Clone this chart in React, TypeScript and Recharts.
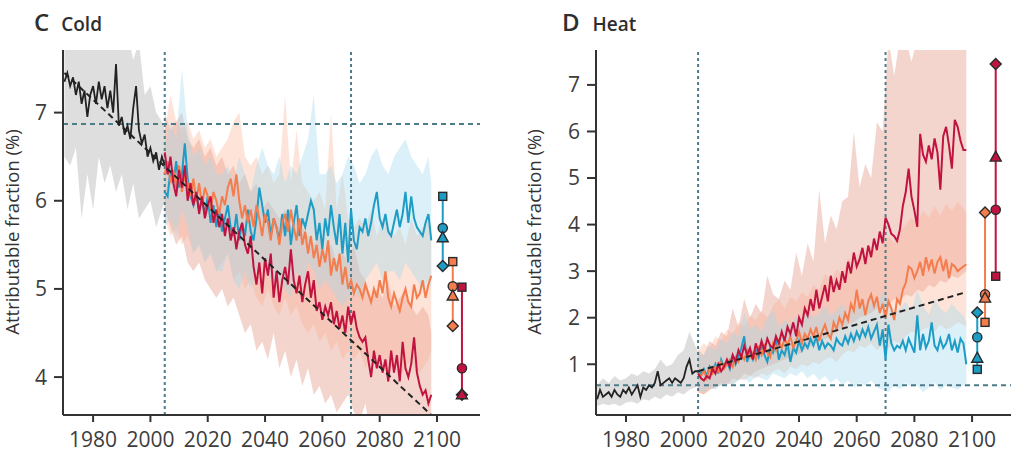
import React from "react";
import { ComposedChart, Area, Line, Scatter, XAxis, YAxis, ReferenceLine } from "recharts";

const FONT = "'Open Sans', 'Noto Sans', sans-serif";
const AXIS = "#333";
const REF = "#4e7b89";
const INK = { hist: "#222", blue: "#1d9dc6", orange: "#f47c4d", red: "#c1133f" };
const FILL = { hist: "#c2c2c2", blue: "#a6daee", orange: "#f8ae90", red: "#e6a193" };

// years
const histYears = Array.from({ length: 36 }, (_, i) => 1970 + i); // 1970-2005
const projYears = Array.from({ length: 94 }, (_, i) => 2005 + i); // 2005-2098
const histBandYears = [1970, 1972, 1974, 1976, 1978, 1980, 1982, 1984, 1986, 1988, 1990, 1992, 1994, 1996, 1998, 2000, 2002, 2004, 2005];
const projBandYears = [2005, 2007, 2009, 2011, 2013, 2015, 2017, 2019, 2021, 2023, 2025, 2027, 2029, 2031, 2033, 2035, 2037, 2039, 2041, 2043, 2045, 2047, 2049, 2051, 2053, 2055, 2057, 2059, 2061, 2063, 2065, 2067, 2069, 2071, 2073, 2075, 2077, 2079, 2081, 2083, 2085, 2087, 2089, 2091, 2093, 2095, 2097, 2098];
const xTicks = [1980, 2000, 2020, 2040, 2060, 2080, 2100];
const markerShapes = ["diamond", "square", "circle", "triangle"];

// ---- C: cold ----
const coldHist = [
  7.35, 7.45, 7.30, 7.40, 7.20, 7.35, 7.10, 7.25, 6.95, 7.20,
  7.30, 7.10, 7.35, 7.15, 7.30, 7.05, 7.25, 7.00, 7.55, 6.85,
  6.95, 6.75, 6.85, 6.70, 7.05, 7.30, 6.80, 6.65, 6.75, 6.50,
  6.60, 6.45, 6.55, 6.35, 6.50, 6.40,
];
const coldHistLo = [6.5, 6.4, 6.6, 5.8, 6.3, 5.9, 6.5, 6.2, 6.4, 6.1, 6.3, 5.9, 6.2, 5.8, 5.9, 6.0, 5.7, 5.9, 6.0];
const coldHistHi = [7.9, 8.0, 8.0, 7.8, 8.0, 7.9, 8.0, 7.8, 8.0, 8.0, 7.7, 7.9, 7.6, 7.8, 7.2, 7.3, 7.0, 6.9, 6.8];

const coldBlue = [
  6.10, 6.05, 6.35, 6.20, 6.45, 6.15, 6.30, 6.65, 6.25, 6.05,
  5.95, 6.10, 5.90, 6.00, 5.85, 6.05, 5.75, 5.95, 5.70, 5.90,
  5.65, 5.80, 5.95, 5.70, 5.60, 5.85, 5.55, 5.75, 5.60, 5.90,
  5.65, 5.55, 5.80, 6.15, 5.95, 5.75, 5.90, 5.60, 5.80, 5.70,
  5.55, 5.85, 5.60, 5.90, 5.50, 5.75, 5.95, 5.60, 5.80, 5.70,
  5.85, 6.00, 5.90, 5.55, 5.75, 5.45, 5.80, 5.60, 5.95, 5.70,
  5.50, 5.85, 5.40, 5.75, 5.30, 5.90, 5.55, 5.45, 5.70, 5.65,
  5.80, 5.60, 5.75, 5.95, 6.10, 5.80, 5.70, 5.85, 5.65, 5.60,
  5.75, 5.90, 5.70, 5.85, 6.10, 5.75, 6.05, 5.80, 5.70, 5.65,
  5.60, 5.75, 5.85, 5.55,
];
const coldBlueLo = [
  5.7, 5.8, 5.6, 5.9, 5.7, 5.4, 5.5, 5.3, 5.4, 5.2,
  5.2, 5.4, 5.1, 5.0, 5.2, 5.0, 5.2, 5.3, 5.2, 5.0,
  5.1, 5.0, 4.9, 5.2, 5.0, 5.3, 5.2, 5.0, 5.1, 5.0,
  4.9, 4.8, 4.9, 5.0, 4.9, 5.1, 5.2, 5.3, 5.1, 5.2,
  5.2, 5.1, 5.3, 5.2, 5.1, 5.0, 5.1, 5.0,
];
const coldBlueHi = [
  6.6, 6.9, 6.7, 7.5, 6.8, 6.5, 6.6, 6.4, 6.5, 6.3,
  6.3, 6.4, 6.2, 6.5, 6.3, 6.1, 6.4, 6.6, 6.4, 6.3,
  6.5, 6.2, 6.4, 6.3, 6.5, 6.7, 7.2, 6.3, 6.3, 6.4,
  6.2, 6.3, 6.5, 6.4, 6.2, 6.3, 6.5, 6.6, 6.4, 6.3,
  6.5, 6.6, 6.7, 6.5, 6.4, 6.3, 6.5, 6.2,
];
const coldOrange = [
  6.30, 6.45, 6.20, 6.35, 6.15, 6.40, 6.10, 6.30, 6.20, 6.05,
  6.25, 6.00, 6.20, 5.95, 6.15, 6.05, 5.90, 6.10, 6.00, 5.85,
  6.05, 5.95, 6.15, 6.25, 6.05, 6.30, 6.00, 5.80, 5.95, 5.75,
  5.90, 5.70, 5.95, 5.80, 5.60, 5.85, 5.75, 5.55, 5.80, 5.70,
  5.50, 5.75, 5.85, 5.65, 5.90, 5.70, 5.55, 5.80, 5.50, 5.65,
  5.40, 5.60, 5.35, 5.50, 5.25, 5.45, 5.30, 5.55, 5.15, 5.35,
  5.20, 5.40, 5.05, 5.25, 5.00, 5.10, 4.95, 5.05, 5.00, 4.90,
  5.05, 4.95, 4.85, 5.00, 4.90, 5.10, 4.95, 5.20, 4.90, 4.80,
  4.95, 4.85, 4.75, 4.90, 5.00, 4.85, 4.80, 5.05, 4.90, 4.95,
  5.10, 4.90, 5.05, 5.15,
];
const coldOrangeLo = [
  5.8, 5.6, 5.7, 5.5, 5.6, 5.4, 5.5, 5.3, 5.4, 5.2,
  5.3, 5.4, 5.1, 5.2, 5.0, 5.1, 4.9, 4.8, 5.0, 4.8,
  4.7, 4.9, 4.7, 4.8, 4.6, 4.5, 4.6, 4.4, 4.5, 4.3,
  4.4, 4.2, 4.3, 4.2, 4.3, 4.1, 4.2, 4.1, 4.2, 4.0,
  4.2, 4.0, 4.1, 4.2, 4.0, 4.1, 4.2, 4.3,
];
const coldOrangeHi = [
  6.8, 7.2, 6.9, 6.8, 6.9, 6.7, 6.8, 6.6, 6.7, 6.5,
  6.6, 6.7, 6.9, 7.0, 6.5, 6.4, 6.5, 6.3, 6.4, 6.2,
  6.3, 7.2, 6.2, 6.8, 6.2, 6.1, 6.0, 6.1, 5.9, 7.0,
  5.9, 6.3, 5.8, 5.7, 5.8, 5.7, 5.9, 5.6, 5.8, 5.7,
  5.6, 5.7, 5.5, 5.8, 5.6, 5.7, 5.8, 5.6,
];
const coldRed = [
  6.55, 6.30, 6.50, 6.20, 6.05, 6.35, 6.15, 6.40, 6.00, 6.20,
  5.95, 6.10, 5.85, 6.05, 5.80, 5.95, 6.05, 5.75, 5.90, 5.70,
  5.85, 5.60, 5.80, 5.55, 5.70, 5.45, 5.65, 5.75, 5.50, 5.40,
  5.60, 5.25, 5.05, 5.30, 4.95, 5.35, 5.15, 5.40, 4.90, 5.20,
  4.85, 5.10, 5.25, 5.05, 5.45, 5.10, 4.95, 5.15, 4.85, 5.05,
  5.20, 4.90, 5.10, 4.75, 4.85, 4.65, 4.80, 4.70, 4.85, 4.60,
  4.75, 4.55, 4.70, 4.50, 4.80, 4.60, 4.75, 4.55, 4.45, 4.40,
  4.45, 4.20, 4.00, 4.30, 4.10, 4.25, 4.05, 4.20, 3.95, 4.30,
  4.05, 4.25, 3.95, 4.40, 4.10, 4.00, 4.15, 4.45, 4.05, 3.90,
  3.80, 3.85, 3.70, 3.80,
];
const coldRedLo = [
  5.9, 5.7, 5.5, 5.6, 5.3, 5.2, 5.3, 5.1, 5.0, 4.9,
  5.0, 4.8, 4.9, 4.7, 4.5, 4.6, 4.3, 4.4, 4.2, 4.5,
  4.1, 4.3, 4.0, 4.2, 3.9, 4.1, 3.8, 3.9, 3.7, 3.8,
  3.6, 3.7, 3.8, 3.6, 3.5, 3.7, 3.3, 3.5, 3.4, 3.5,
  3.3, 3.4, 3.2, 3.3, 3.2, 3.3, 3.2, 3.2,
];
const coldRedHi = [
  7.0, 6.8, 6.9, 7.0, 6.7, 6.6, 6.7, 6.5, 6.6, 6.4,
  6.5, 6.3, 6.4, 6.2, 6.3, 6.1, 6.2, 5.9, 6.0, 5.9,
  5.8, 5.9, 5.7, 5.8, 5.7, 5.6, 5.5, 5.6, 5.4, 5.5,
  5.3, 5.4, 5.3, 5.5, 5.2, 5.1, 4.9, 5.0, 4.9, 5.1,
  4.8, 4.9, 5.0, 4.8, 4.7, 4.8, 4.7, 4.5,
];
const coldTrendYears = [1970, 2098];
const coldTrend = [7.45, 3.57];
const coldMarkYears = { blue: 2102, orange: 2105.5, red: 2108.7 };
// diamond, square, circle, triangle
const coldMarkBlue = [5.26, 6.05, 5.69, 5.58];
const coldMarkOrange = [4.58, 5.31, 5.03, 4.92];
const coldMarkRed = [3.80, 5.02, 4.10, 3.80];

// ---- D: heat ----
const heatHist = [
  0.25, 0.45, 0.30, 0.35, 0.40, 0.30, 0.45, 0.35, 0.30, 0.45,
  0.38, 0.50, 0.35, 0.45, 0.55, 0.30, 0.50, 0.45, 0.55, 0.50,
  0.60, 0.85, 0.55, 0.60, 0.65, 0.70, 0.60, 0.70, 0.65, 0.60,
  0.70, 0.95, 1.10, 0.80, 0.85, 0.85,
];
const heatHistLo = [0.10, 0.15, 0.12, 0.15, 0.10, 0.18, 0.20, 0.15, 0.25, 0.22, 0.30, 0.25, 0.35, 0.30, 0.40, 0.35, 0.45, 0.50, 0.55];
const heatHistHi = [0.55, 0.70, 0.60, 0.75, 0.65, 0.70, 0.80, 0.75, 0.85, 0.80, 0.90, 1.10, 0.95, 1.00, 1.20, 1.30, 1.70, 1.40, 1.25];

const heatBlue = [
  0.85, 0.80, 0.90, 0.75, 0.95, 0.85, 1.00, 0.80, 1.10, 0.95,
  1.05, 0.90, 1.20, 1.00, 1.15, 1.35, 1.60, 1.05, 1.25, 1.10,
  1.30, 1.15, 1.40, 1.20, 1.05, 1.35, 1.25, 1.55, 1.10, 1.30,
  1.20, 1.45, 1.05, 1.35, 1.25, 1.50, 1.30, 1.45, 1.35, 1.55,
  1.40, 1.60, 1.30, 1.50, 1.35, 1.45, 1.40, 1.30, 1.55, 1.45,
  1.40, 1.60, 1.45, 1.65, 1.50, 1.70, 1.55, 1.75, 1.60, 1.80,
  1.55, 1.70, 1.85, 1.40, 1.75, 1.10, 1.85, 1.45, 1.30, 1.40,
  1.35, 1.50, 1.30, 1.55, 1.40, 1.25, 2.05, 1.30, 1.65, 1.35,
  1.50, 1.90, 1.40, 1.30, 1.55, 1.35, 1.45, 1.65, 1.30, 1.50,
  1.25, 1.55, 1.45, 1.00,
];
const heatBlueLo = [
  0.45, 0.40, 0.50, 0.45, 0.55, 0.60, 0.55, 0.65, 0.70, 0.60,
  0.75, 0.70, 0.65, 0.80, 0.75, 0.70, 0.80, 0.75, 0.85, 0.70,
  0.80, 0.65, 0.75, 0.60, 0.70, 0.55, 0.65, 0.50, 0.60, 0.55,
  0.65, 0.50, 0.45, 0.40, 0.55, 0.45, 0.60, 0.50, 0.55, 0.40,
  0.50, 0.60, 0.45, 0.55, 0.50, 0.45, 0.55, 0.50,
];
const heatBlueHi = [
  1.25, 1.20, 1.40, 1.30, 1.55, 1.45, 1.70, 1.60, 2.10, 1.75,
  1.85, 1.70, 2.00, 2.20, 1.80, 1.95, 1.85, 2.05, 1.90, 2.15,
  2.00, 2.10, 2.25, 2.05, 2.15, 2.30, 2.05, 2.20, 2.35, 2.25,
  2.45, 2.30, 2.55, 2.40, 2.10, 2.20, 2.35, 2.15, 2.60, 2.25,
  2.05, 2.40, 2.20, 2.10, 2.30, 2.15, 2.05, 1.90,
];
const heatOrange = [
  0.80, 0.75, 0.85, 0.70, 0.90, 0.80, 0.95, 0.85, 1.05, 0.90,
  1.00, 1.10, 0.95, 1.15, 1.05, 1.20, 1.10, 1.30, 1.15, 1.25,
  1.10, 1.35, 1.20, 1.40, 1.25, 1.15, 1.45, 1.30, 1.50, 1.35,
  1.55, 1.40, 1.60, 1.35, 1.50, 1.70, 1.45, 1.65, 1.55, 1.75,
  1.60, 1.80, 1.50, 1.70, 1.85, 1.65, 1.55, 1.90, 1.75, 2.00,
  1.85, 2.10, 1.95, 2.30, 2.15, 2.60, 2.20, 2.40, 2.05, 2.35,
  2.50, 2.25, 2.45, 2.10, 2.30, 2.00, 2.35, 2.20, 1.95, 2.40,
  2.30, 2.60, 2.75, 3.10, 3.05, 2.85, 3.00, 3.20, 2.90, 3.30,
  3.05, 3.25, 2.95, 3.20, 3.30, 3.00, 3.25, 2.85, 3.15, 3.10,
  3.00, 3.05, 3.10, 3.15,
];
const heatOrangeLo = [
  0.40, 0.35, 0.45, 0.50, 0.55, 0.60, 0.55, 0.70, 0.65, 0.75,
  0.70, 0.80, 0.75, 0.85, 0.90, 0.80, 0.95, 0.90, 1.00, 0.95,
  1.05, 1.00, 1.10, 1.15, 1.05, 1.20, 1.30, 1.25, 1.40, 1.35,
  1.45, 1.30, 1.40, 1.35, 1.50, 1.45, 1.60, 1.70, 1.65, 1.75,
  1.80, 1.70, 1.85, 1.75, 1.80, 1.90, 1.85, 1.80,
];
const heatOrangeHi = [
  1.30, 1.45, 1.35, 1.60, 1.50, 1.75, 1.65, 1.90, 1.80, 2.05,
  1.95, 2.15, 2.00, 2.25, 2.40, 2.20, 2.45, 2.35, 2.55, 2.45,
  2.70, 2.60, 2.95, 2.80, 3.05, 2.90, 3.30, 3.10, 3.45, 3.30,
  3.55, 3.40, 3.65, 3.75, 3.60, 3.85, 4.00, 4.15, 4.05, 4.30,
  4.15, 4.40, 4.20, 4.45, 4.30, 4.50, 4.35, 4.25,
];
const heatRed = [
  0.80, 0.70, 0.65, 0.75, 0.70, 0.90, 0.80, 1.00, 0.85, 0.95,
  1.10, 0.95, 1.20, 1.05, 1.30, 1.15, 1.40, 1.20, 1.35, 1.10,
  1.45, 1.25, 1.50, 1.30, 1.55, 1.40, 1.35, 1.60, 1.45, 1.70,
  1.50, 1.80, 1.65, 1.90, 1.60, 2.00, 1.85, 2.20, 2.05, 2.40,
  2.15, 2.60, 2.20, 2.45, 2.70, 2.35, 2.90, 2.55, 2.80, 2.60,
  3.00, 2.75, 3.20, 2.95, 3.40, 3.10, 3.25, 3.50, 3.15, 3.55,
  3.30, 3.70, 3.45, 3.85, 3.60, 4.15, 4.00, 3.80, 3.75, 3.65,
  3.90, 4.40, 4.70, 5.20, 4.60, 4.30, 3.95, 5.95, 5.50, 5.35,
  5.70, 5.40, 5.85, 5.55, 4.75, 5.90, 6.10, 5.70, 5.20, 6.25,
  6.10, 5.80, 5.60, 5.60,
];
const heatRedLo = [
  0.40, 0.35, 0.45, 0.50, 0.60, 0.55, 0.70, 0.65, 0.80, 0.75,
  0.85, 0.90, 0.95, 1.00, 1.05, 1.10, 1.15, 1.20, 1.25, 1.35,
  1.40, 1.50, 1.55, 1.60, 1.70, 1.75, 1.85, 1.90, 2.00, 2.05,
  2.10, 2.20, 2.30, 2.25, 2.40, 2.35, 2.50, 2.45, 2.60, 2.55,
  2.70, 2.65, 2.80, 2.75, 2.90, 2.85, 2.95, 3.00,
];
const heatRedHi = [
  1.30, 1.20, 1.50, 1.40, 1.70, 1.60, 2.20, 1.80, 2.40, 2.00,
  2.30, 2.10, 2.90, 2.50, 2.40, 2.80, 2.60, 3.40, 2.90, 3.60,
  3.20, 4.75, 3.60, 4.20, 3.90, 4.50, 4.60, 6.00, 4.80, 5.30,
  5.00, 6.20, 6.00, 8.00, 7.20, 8.00, 8.00, 7.50, 8.00, 8.00,
  8.00, 8.00, 7.80, 8.00, 8.00, 8.00, 8.00, 8.00,
];
const heatTrendYears = [2005, 2098];
const heatTrend = [0.85, 2.55];
const heatMarkYears = { blue: 2101.8, orange: 2104.5, red: 2108.2 };
// diamond, square, circle, triangle
const heatMarkBlue = [2.11, 0.89, 1.58, 1.13];
const heatMarkOrange = [4.26, 1.90, 2.50, 2.42];
const heatMarkRed = [7.45, 2.89, 4.32, 5.45];

type Proj = { line: number[]; lo: number[]; hi: number[] };

function buildRows(
  hist: number[], histLo: number[], histHi: number[],
  proj: Record<string, Proj>, trendYears: number[], trend: number[],
) {
  const rows = new Map<number, any>();
  const at = (y: number) => {
    if (!rows.has(y)) rows.set(y, { year: y });
    return rows.get(y);
  };
  histYears.forEach((y, i) => (at(y).hist = hist[i]));
  histBandYears.forEach((y, i) => (at(y).histBand = [histLo[i], histHi[i]]));
  Object.entries(proj).forEach(([k, s]) => {
    projYears.forEach((y, i) => (at(y)[k] = s.line[i]));
    projBandYears.forEach((y, i) => (at(y)[k + "Band"] = [s.lo[i], s.hi[i]]));
  });
  trendYears.forEach((y, i) => (at(y).trend = trend[i]));
  return [...rows.values()].sort((a, b) => a.year - b.year);
}

function markerRows(year: number, values: number[]) {
  return values.map((v, i) => ({ year, v, shape: markerShapes[i] }));
}

function Marker(props: any) {
  const { cx, cy, payload, fill } = props;
  if (cx == null || cy == null) return null;
  const st = { fill, stroke: "#2a2a2a", strokeWidth: 1.4 };
  switch (payload.shape) {
    case "square":
      return <rect x={cx - 4} y={cy - 4} width={8} height={8} {...st} />;
    case "circle":
      return <circle cx={cx} cy={cy} r={4.6} {...st} />;
    case "triangle":
      return <polygon points={`${cx},${cy - 6} ${cx + 5.5},${cy + 4} ${cx - 5.5},${cy + 4}`} {...st} />;
    default:
      return <polygon points={`${cx},${cy - 5.5} ${cx + 5.5},${cy} ${cx},${cy + 5.5} ${cx - 5.5},${cy}`} {...st} />;
  }
}

const tickStyle = { fill: "#3d3d3d", fontSize: 21, fontFamily: FONT };

function Panel(props: {
  width: number; right: number; yWidth: number; xDomain: number[]; yDomain: number[]; yTicks: number[];
  rows: any[]; hLine: number; marks: { key: "blue" | "orange" | "red"; year: number; values: number[] }[];
}) {
  const { width, right, yWidth, xDomain, yDomain, yTicks, rows, hLine, marks } = props;
  return (
    <ComposedChart width={width} height={461} data={rows} margin={{ top: 50, right, bottom: 0, left: 0 }}>
      <XAxis
        type="number" dataKey="year" domain={xDomain} ticks={xTicks} allowDataOverflow
        height={46} tick={tickStyle} tickSize={7} tickMargin={10}
        axisLine={{ stroke: AXIS, strokeWidth: 2 }} tickLine={{ stroke: AXIS, strokeWidth: 2 }}
      />
      <YAxis
        type="number" domain={yDomain} ticks={yTicks} allowDataOverflow width={yWidth}
        tick={tickStyle} tickSize={9} tickMargin={7}
        axisLine={{ stroke: AXIS, strokeWidth: 2 }} tickLine={{ stroke: AXIS, strokeWidth: 2 }}
      />
      <Area dataKey="histBand" connectNulls stroke="none" fill={FILL.hist} fillOpacity={0.55} isAnimationActive={false} />
      <Area dataKey="redBand" connectNulls stroke="none" fill={FILL.red} fillOpacity={0.45} isAnimationActive={false} />
      <Area dataKey="orangeBand" connectNulls stroke="none" fill={FILL.orange} fillOpacity={0.35} isAnimationActive={false} />
      <Area dataKey="blueBand" connectNulls stroke="none" fill={FILL.blue} fillOpacity={0.4} isAnimationActive={false} />
      <ReferenceLine y={hLine} stroke={REF} strokeWidth={2} strokeDasharray="5 4" />
      <ReferenceLine x={2005} stroke={REF} strokeWidth={2} strokeDasharray="3 3" />
      <ReferenceLine x={2070} stroke={REF} strokeWidth={2} strokeDasharray="3 3" />
      <Line dataKey="hist" stroke={INK.hist} strokeWidth={1.8} dot={false} isAnimationActive={false} />
      <Line dataKey="blue" stroke={INK.blue} strokeWidth={2} dot={false} isAnimationActive={false} />
      <Line dataKey="orange" stroke={INK.orange} strokeWidth={2} dot={false} isAnimationActive={false} />
      <Line dataKey="red" stroke={INK.red} strokeWidth={2} dot={false} isAnimationActive={false} />
      <Line dataKey="trend" connectNulls stroke="#222" strokeWidth={2} strokeDasharray="6 4" dot={false} isAnimationActive={false} />
      {marks.map((m) => (
        <Scatter
          key={m.key}
          data={markerRows(m.year, m.values)}
          dataKey="v"
          fill={INK[m.key]}
          line={{ stroke: INK[m.key], strokeWidth: 2 }}
          shape={(p: any) => <Marker {...p} fill={INK[m.key]} />}
          isAnimationActive={false}
        />
      ))}
    </ComposedChart>
  );
}

const titleStyle: React.CSSProperties = { position: "absolute", top: 5, fontFamily: FONT, color: "#2e2e2e", whiteSpace: "nowrap" };
const yLabelStyle: React.CSSProperties = {
  position: "absolute", top: 232, fontFamily: FONT, fontSize: 18.5, color: "#333", whiteSpace: "nowrap",
  transform: "translate(-50%, -50%) rotate(-90deg)",
};

export default function App() {
  const coldRows = buildRows(coldHist, coldHistLo, coldHistHi, {
    blue: { line: coldBlue, lo: coldBlueLo, hi: coldBlueHi },
    orange: { line: coldOrange, lo: coldOrangeLo, hi: coldOrangeHi },
    red: { line: coldRed, lo: coldRedLo, hi: coldRedHi },
  }, coldTrendYears, coldTrend);
  const heatRows = buildRows(heatHist, heatHistLo, heatHistHi, {
    blue: { line: heatBlue, lo: heatBlueLo, hi: heatBlueHi },
    orange: { line: heatOrange, lo: heatOrangeLo, hi: heatOrangeHi },
    red: { line: heatRed, lo: heatRedLo, hi: heatRedHi },
  }, heatTrendYears, heatTrend);

  return (
    <div style={{ position: "absolute", left: 0, top: 0, width: 1011, height: 461, background: "#fff", overflow: "hidden" }}>
      <div style={{ position: "absolute", left: 0, top: 0 }}>
        <Panel
          width={500} right={20} yWidth={63} xDomain={[1969.5, 2115]} yDomain={[3.57, 7.71]} yTicks={[4, 5, 6, 7]}
          rows={coldRows} hLine={6.87}
          marks={[
            { key: "blue", year: coldMarkYears.blue, values: coldMarkBlue },
            { key: "orange", year: coldMarkYears.orange, values: coldMarkOrange },
            { key: "red", year: coldMarkYears.red, values: coldMarkRed },
          ]}
        />
      </div>
      <div style={{ position: "absolute", left: 500, top: 0 }}>
        <Panel
          width={511} right={0} yWidth={96} xDomain={[1969.6, 2113.5]} yDomain={[-0.09, 7.75]} yTicks={[1, 2, 3, 4, 5, 6, 7]}
          rows={heatRows} hLine={0.55}
          marks={[
            { key: "blue", year: heatMarkYears.blue, values: heatMarkBlue },
            { key: "orange", year: heatMarkYears.orange, values: heatMarkOrange },
            { key: "red", year: heatMarkYears.red, values: heatMarkRed },
          ]}
        />
      </div>
      <div style={{ ...titleStyle, left: 34 }}>
        <span style={{ fontSize: 24, fontWeight: 600 }}>C</span>
        <span style={{ fontSize: 19, fontWeight: 600, marginLeft: 12 }}>Cold</span>
      </div>
      <div style={{ ...titleStyle, left: 562 }}>
        <span style={{ fontSize: 24, fontWeight: 600 }}>D</span>
        <span style={{ fontSize: 19, fontWeight: 600, marginLeft: 13 }}>Heat</span>
      </div>
      <div style={{ ...yLabelStyle, left: 11 }}>Attributable fraction (%)</div>
      <div style={{ ...yLabelStyle, left: 533 }}>Attributable fraction (%)</div>
    </div>
  );
}
